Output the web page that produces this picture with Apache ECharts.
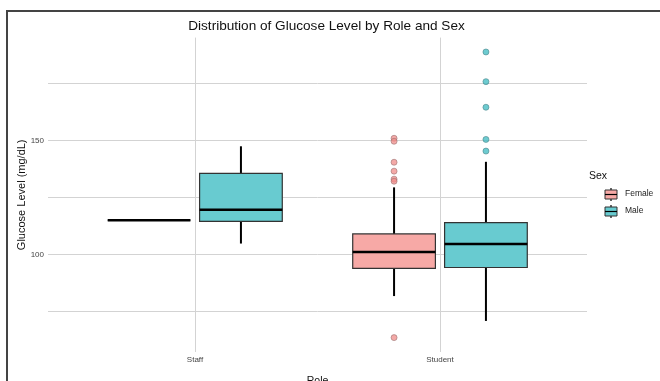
<!DOCTYPE html>
<html>
<head>
<meta charset="utf-8">
<script src="https://cdn.jsdelivr.net/npm/echarts@6/dist/echarts.min.js"></script>
<style>html,body{margin:0;padding:0;background:#fff;}#c{width:660px;height:381px;}</style>
</head>
<body>
<div id="c"></div>
<script>
// Categories
const roles = ['Staff', 'Student'];
const sexes = ['Female', 'Male'];
// Five-number summaries per role: [lower whisker, Q1, median, Q3, upper whisker]
const femaleBox = [[115, 115, 115, 115, 115], [81.8, 93.9, 101.1, 109.0, 129.4]];
const maleBox = [[104.8, 114.5, 119.6, 135.5, 147.4], [70.9, 94.3, 104.6, 114.0, 140.6]];
// Outliers: [role, value]
const femaleOutliers = [['Student', 63.6], ['Student', 150.9], ['Student', 149.6], ['Student', 140.4], ['Student', 136.5], ['Student', 133.0], ['Student', 132.1]];
const maleOutliers = [['Student', 188.7], ['Student', 175.7], ['Student', 164.5], ['Student', 150.4], ['Student', 145.3]];
// Tick labels
const yTicks = [100, 150];
const yGrid = [75, 100, 125, 150, 175];

const colors = { Female: '#F7A9A6', Male: '#68CBD0' };
const ptColors = { Female: 'rgba(240,140,138,0.75)', Male: 'rgba(60,185,192,0.75)' };
const dodge = 0.1875, halfW = 0.16875;

function boxData(arr, sexIdx) {
  return arr.map((d, i) => [i + 1 + (sexIdx === 0 ? -dodge : dodge)].concat(d));
}
function outData(arr, sexIdx) {
  return arr.map(d => [roles.indexOf(d[0]) + 1 + (sexIdx === 0 ? -dodge : dodge), d[1]]);
}

function renderBox(fill) {
  return function (params, api) {
    const x = api.value(0);
    const lo = api.coord([x, api.value(1)]);
    const q1 = api.coord([x, api.value(2)]);
    const md = api.coord([x, api.value(3)]);
    const q3 = api.coord([x, api.value(4)]);
    const hi = api.coord([x, api.value(5)]);
    const left = api.coord([x - halfW, api.value(3)])[0];
    const right = api.coord([x + halfW, api.value(3)])[0];
    return {
      type: 'group',
      children: [
        { type: 'line', shape: { x1: lo[0], y1: lo[1], x2: q1[0], y2: q1[1] }, style: { stroke: '#000', lineWidth: 2 } },
        { type: 'line', shape: { x1: q3[0], y1: q3[1], x2: hi[0], y2: hi[1] }, style: { stroke: '#000', lineWidth: 2 } },
        { type: 'rect', shape: { x: left, y: q3[1], width: right - left, height: q1[1] - q3[1] }, style: { fill: fill, stroke: '#333', lineWidth: 1.2 } },
        { type: 'line', shape: { x1: left, y1: md[1], x2: right, y2: md[1] }, style: { stroke: '#000', lineWidth: 2.4 } }
      ]
    };
  };
}

const gridLineData = yGrid.map(v => ({ yAxis: v })).concat([{ xAxis: 1 }, { xAxis: 2 }]);

function keyGraphic(y, fill, label) {
  return [
    { type: 'line', shape: { x1: 611, y1: y - 6.5, x2: 611, y2: y + 6.5 }, style: { stroke: '#000', lineWidth: 1.2 } },
    { type: 'rect', shape: { x: 605, y: y - 4.5, width: 12, height: 9 }, style: { fill: fill, stroke: '#333', lineWidth: 1 } },
    { type: 'line', shape: { x1: 605, y1: y, x2: 617, y2: y }, style: { stroke: '#000', lineWidth: 1.2 } },
    { type: 'text', left: 625, top: y - 5, style: { text: label, fontSize: 8.5, fill: '#222', fontFamily: 'Liberation Sans, Arial, sans-serif' } }
  ];
}

const chart = echarts.init(document.getElementById('c'), null, { renderer: 'canvas' });
chart.setOption({
  backgroundColor: '#fff',
  animation: false,
  textStyle: { fontFamily: 'Liberation Sans, Arial, sans-serif' },
  title: {
    text: 'Distribution of Glucose Level by Role and Sex',
    left: 321.5, top: 14, textAlign: 'center',
    textStyle: { fontSize: 13.6, fontWeight: 'normal', color: '#111' }
  },
  grid: { left: 48, right: 73, top: 37.6, bottom: 29, containLabel: false, outerBoundsMode: 'none' },
  xAxis: {
    type: 'value', min: 0.4, max: 2.6,
    name: 'Role', nameLocation: 'middle', nameGap: 24, nameMoveOverlap: false,
    nameTextStyle: { fontSize: 10.5, color: '#111' },
    axisLine: { show: false }, axisTick: { show: false }, splitLine: { show: false },
    axisLabel: { customValues: [1, 2], formatter: v => roles[Math.round(v) - 1], fontSize: 8, color: '#444', margin: 4 }
  },
  yAxis: {
    type: 'value', min: 57.3, max: 195,
    name: 'Glucose Level (mg/dL)', nameLocation: 'middle', nameGap: 21, nameMoveOverlap: false,
    nameTextStyle: { fontSize: 11, color: '#111' },
    axisLine: { show: false }, axisTick: { show: false }, splitLine: { show: false },
    axisLabel: { customValues: yTicks, fontSize: 8, color: '#444', margin: 4 }
  },
  graphic: [
    { type: 'line', shape: { x1: 6, y1: 11, x2: 660, y2: 11 }, style: { stroke: '#444', lineWidth: 2 } },
    { type: 'line', shape: { x1: 7, y1: 10, x2: 7, y2: 381 }, style: { stroke: '#444', lineWidth: 2 } },
    { type: 'text', left: 589, top: 171, style: { text: 'Sex', fontSize: 10.5, fill: '#111', fontFamily: 'Liberation Sans, Arial, sans-serif' } }
  ].concat(keyGraphic(194.5, colors.Female, 'Female'), keyGraphic(211.5, colors.Male, 'Male')),
  series: [
    {
      type: 'scatter', data: [], z: 0, silent: true,
      markLine: { z: 0, silent: true, symbol: 'none', label: { show: false }, lineStyle: { color: '#d3d3d3', width: 1, type: 'solid' }, data: gridLineData }
    },
    { name: 'Female', type: 'custom', z: 3, renderItem: renderBox(colors.Female), data: boxData(femaleBox, 0), encode: { x: 0, y: [1, 2, 3, 4, 5] } },
    { name: 'Male', type: 'custom', z: 3, renderItem: renderBox(colors.Male), data: boxData(maleBox, 1), encode: { x: 0, y: [1, 2, 3, 4, 5] } },
    { type: 'scatter', z: 4, symbolSize: 6, data: outData(femaleOutliers, 0), itemStyle: { color: ptColors.Female, borderColor: '#9a7070', borderWidth: 0.6, opacity: 1 } },
    { type: 'scatter', z: 4, symbolSize: 6, data: outData(maleOutliers, 1), itemStyle: { color: ptColors.Male, borderColor: '#4a8589', borderWidth: 0.6, opacity: 1 } }
  ]
});
</script>
</body>
</html>
